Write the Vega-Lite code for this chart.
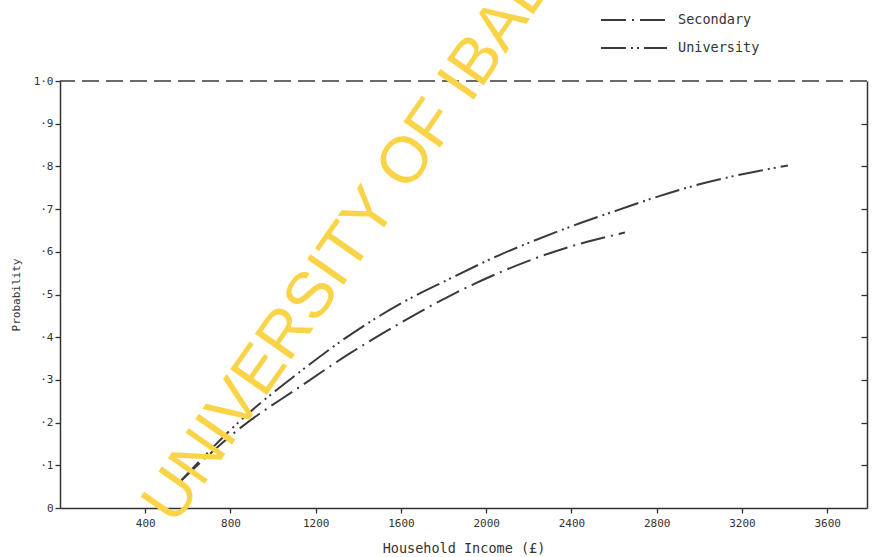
{
  "$schema": "https://vega.github.io/schema/vega-lite/v6.json",
  "width": 807,
  "height": 427,
  "autosize": {"type": "none"},
  "padding": {"left": 60, "top": 81, "right": 8, "bottom": 49},
  "background": "white",
  "config": {
    "view": {"stroke": null},
    "font": "DejaVu Sans Mono",
    "axis": {
      "domainColor": "#333",
      "tickColor": "#333",
      "labelColor": "#333",
      "titleColor": "#333",
      "labelFont": "DejaVu Sans Mono",
      "titleFont": "DejaVu Sans Mono",
      "labelFontSize": 11,
      "titleFontSize": 11,
      "titleFontWeight": "normal",
      "grid": false,
      "domainWidth": 1.5,
      "tickWidth": 1.3
    },
    "legend": {"labelColor": "#333", "labelFont": "DejaVu Sans Mono", "labelFontSize": 13.5}
  },
  "datasets": {
    "curves": [
      {"income": 570, "prob": 0.065, "group": "University"},
      {"income": 845, "prob": 0.204, "group": "University"},
      {"income": 1126, "prob": 0.319, "group": "University"},
      {"income": 1360, "prob": 0.405, "group": "University"},
      {"income": 1596, "prob": 0.478, "group": "University"},
      {"income": 1830, "prob": 0.537, "group": "University"},
      {"income": 2065, "prob": 0.593, "group": "University"},
      {"income": 2220, "prob": 0.625, "group": "University"},
      {"income": 2407, "prob": 0.661, "group": "University"},
      {"income": 2614, "prob": 0.697, "group": "University"},
      {"income": 2816, "prob": 0.731, "group": "University"},
      {"income": 3000, "prob": 0.758, "group": "University"},
      {"income": 3285, "prob": 0.79, "group": "University"},
      {"income": 3416, "prob": 0.802, "group": "University"},
      {"income": 570, "prob": 0.065, "group": "Secondary"},
      {"income": 845, "prob": 0.187, "group": "Secondary"},
      {"income": 1126, "prob": 0.284, "group": "Secondary"},
      {"income": 1360, "prob": 0.362, "group": "Secondary"},
      {"income": 1596, "prob": 0.433, "group": "Secondary"},
      {"income": 1830, "prob": 0.497, "group": "Secondary"},
      {"income": 2065, "prob": 0.552, "group": "Secondary"},
      {"income": 2205, "prob": 0.58, "group": "Secondary"},
      {"income": 2393, "prob": 0.612, "group": "Secondary"},
      {"income": 2534, "prob": 0.631, "group": "Secondary"},
      {"income": 2651, "prob": 0.645, "group": "Secondary"}
    ],
    "reference": [{"level": 1}],
    "watermark": [
      {"label": "UNIVERSITY OF IBADAN", "x": 1480, "y": 0.71}
    ]
  },
  "layer": [
    {
      "data": {"name": "curves"},
      "mark": {"type": "line", "interpolate": "monotone", "strokeWidth": 2, "color": "#3a3a3a", "strokeCap": "butt"},
      "encoding": {
        "x": {
          "field": "income", "type": "quantitative",
          "scale": {"domain": [0, 3787], "nice": false, "zero": false},
          "axis": {"values": [400, 800, 1200, 1600, 2000, 2400, 2800, 3200, 3600], "format": "d", "tickSize": 5, "labelPadding": 4, "title": "Household  Income (£)", "titleFontSize": 13.5, "titlePadding": 13}
        },
        "y": {
          "field": "prob", "type": "quantitative",
          "scale": {"domain": [0, 1], "nice": false},
          "axis": {
            "orient": "left",
            "values": [0, 0.1, 0.2, 0.3, 0.4, 0.5, 0.6, 0.7, 0.8, 0.9, 1],
            "labelExpr": "datum.value == 0 ? '0' : (datum.value == 1 ? '1·0' : '·' + round(datum.value * 10))",
            "tickSize": 5, "labelPadding": 2,
            "title": "Probability", "titlePadding": 12
          }
        },
        "strokeDash": {
          "field": "group", "type": "nominal",
          "scale": {"domain": ["Secondary", "University"], "range": [[25, 6, 2, 6], [25, 5, 2, 4, 2, 5]]},
          "legend": {
            "title": null, "orient": "none", "legendX": 562, "legendY": -73,
            "symbolType": "M-3,0H3", "symbolSize": 484, "symbolStrokeWidth": 1.8,
            "symbolStrokeColor": "#3a3a3a", "symbolFillColor": "transparent", "labelOffset": 32, "rowPadding": 9
          }
        }
      }
    },
    {
      "data": {"name": "reference"},
      "mark": {"type": "rule", "strokeDash": [17, 7], "strokeWidth": 1.6, "color": "#3a3a3a"},
      "encoding": {
        "y": {
          "field": "level", "type": "quantitative",
          "scale": {"domain": [0, 1], "nice": false},
          "axis": {
            "orient": "right",
            "values": [0.1, 0.2, 0.3, 0.4, 0.5, 0.6, 0.7, 0.8, 0.9],
            "labels": false, "tickSize": -6, "title": null
          }
        }
      }
    },
    {
      "data": {"name": "watermark"},
      "mark": {"type": "text", "angle": -55, "fontSize": 65, "font": "Liberation Sans", "color": "#F9D449", "align": "center", "baseline": "middle"},
      "encoding": {
        "x": {"field": "x", "type": "quantitative"},
        "y": {"field": "y", "type": "quantitative", "axis": null},
        "text": {"field": "label"}
      }
    }
  ],
  "resolve": {"axis": {"y": "independent"}}
}
